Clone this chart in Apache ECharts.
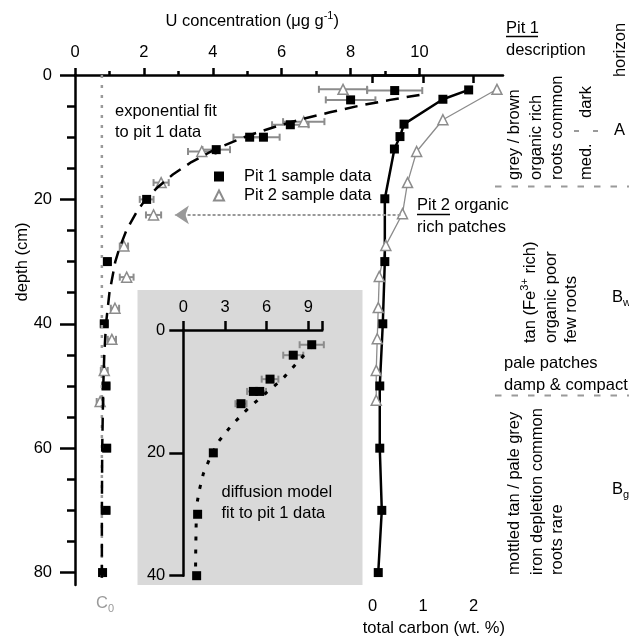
<!DOCTYPE html>
<html>
<head>
<meta charset="utf-8">
<script src="https://cdn.jsdelivr.net/npm/echarts@6/dist/echarts.min.js"></script>
<style>
  html, body { margin: 0; padding: 0; background: #fff; }
  #chart { width: 629px; height: 637px; }
</style>
</head>
<body>
<div id="chart"></div>
<script>
// --- U concentration (ug/g) against depth (cm), main panel ---
const pit1Depth = [2.5, 4.0, 8.0, 10.0, 10.0, 12.0, 20.0, 30.0, 40.0, 50.0, 60.0, 70.0, 80.0];
const pit1U = [9.28, 8.0, 6.25, 5.07, 5.47, 4.1, 2.08, 0.94, 0.85, 0.9, 0.92, 0.9, 0.8];
const pit1Err = [0.8, 0.72, 0.53, 0.47, 0.47, 0.4, 0.2, 0.1, 0.1, 0.1, 0.1, 0.1, 0.1];

const pit2Depth = [2.3, 7.5, 12.3, 17.3, 22.5, 27.5, 32.5, 37.5, 42.5, 47.5, 52.5];
const pit2U = [7.78, 6.64, 3.68, 2.5, 2.28, 1.42, 1.5, 1.16, 1.07, 0.85, 0.73];
const pit2Err = [0.7, 0.6, 0.4, 0.22, 0.22, 0.12, 0.2, 0.12, 0.12, 0.1, 0.1];

// exponential fit
const expFitDepth = [3.2, 4, 5, 6, 7, 8, 9, 10, 12, 14, 16, 18, 20, 22, 25, 28, 30, 35, 40, 45, 50, 60, 70, 82];
const expFitU = [10.0, 9.15, 8.2, 7.4, 6.66, 6.0, 5.43, 4.91, 4.05, 3.38, 2.84, 2.41, 2.05, 1.79, 1.49, 1.28, 1.17, 1.0, 0.9, 0.85, 0.82, 0.79, 0.78, 0.78];

// background concentration C0
const c0Depth = [0, 82];
const c0U = [0.78, 0.78];

// "Pit 2 organic rich patches" arrow
const arrowDepth = 22.5;
const arrowFromU = 9.45;
const arrowToU = 2.9;

// --- total carbon (wt. %) ---
const carbon1Depth = [2.4, 3.9, 7.9, 9.9, 11.9, 19.9, 30, 40, 50, 60, 70, 80];
const carbon1 = [1.9, 1.39, 0.62, 0.54, 0.43, 0.24, 0.24, 0.2, 0.14, 0.14, 0.18, 0.11];
const carbon2Depth = [2.3, 7.2, 12.3, 17.3, 22.3, 27.4, 32.4, 37.4, 42.4, 47.5, 52.3];
const carbon2 = [2.46, 1.39, 0.87, 0.69, 0.59, 0.26, 0.13, 0.11, 0.09, 0.07, 0.07];

// --- inset: diffusion model ---
const insetDepth = [2.4, 4.1, 8.0, 10.0, 10.0, 12.0, 20.0, 30.0, 40.0];
const insetU = [9.24, 7.91, 6.24, 5.04, 5.5, 4.15, 2.16, 1.03, 0.96];
const insetErr = [0.87, 0.72, 0.6, 0.45, 0.45, 0.4, 0.15, 0.1, 0.1];
const diffFitDepth = [2.5, 4, 5.7, 8.1, 10.6, 13.0, 15.5, 18.2, 21.2, 23.4, 26.1, 28.2, 31, 33.6, 36.6, 40];
const diffFitU = [9.3, 8.72, 8.04, 7.08, 5.76, 4.56, 3.48, 2.52, 1.85, 1.44, 1.15, 0.99, 0.93, 0.91, 0.89, 0.88];

// --- ticks ---
const uTicks = [0, 2, 4, 6, 8, 10];
const uMinorTicks = [1, 3, 5, 7, 9];
const depthTicks = [0, 20, 40, 60, 80];
const depthMinorTicks = [5, 10, 15, 25, 30, 35, 45, 50, 55, 65, 70, 75];
const carbonTicks = [0, 1, 2];
const insetUTicks = [0, 3, 6, 9, 10];
const insetULabels = [0, 3, 6, 9];
const insetDepthTicks = [0, 20, 40];

const FONT = 'Liberation Sans, Arial, sans-serif';
const FS = 16.5;
const GREY = '#8c8c8c';

const zip = (a, b) => a.map((v, i) => [v, b[i]]);
const zip3 = (a, b, c) => a.map((v, i) => [v, b[i], c[i]]);

function errorBars(params, api) {
  const y = api.value(1);
  const lo = api.coord([api.value(0) - api.value(2), y]);
  const hi = api.coord([api.value(0) + api.value(2), y]);
  const cap = 3.5;
  const style = { stroke: GREY, lineWidth: 2, fill: null };
  return {
    type: 'group',
    children: [
      { type: 'line', shape: { x1: lo[0], y1: lo[1], x2: hi[0], y2: hi[1] }, style },
      { type: 'line', shape: { x1: lo[0], y1: lo[1] - cap, x2: lo[0], y2: lo[1] + cap }, style },
      { type: 'line', shape: { x1: hi[0], y1: hi[1] - cap, x2: hi[0], y2: hi[1] + cap }, style }
    ]
  };
}

const RICH = {
  n: { fontSize: FS, fontFamily: FONT, lineHeight: 22 },
  sup: { fontSize: 11, fontFamily: FONT, verticalAlign: 'top' },
  sub: { fontSize: 11, fontFamily: FONT, verticalAlign: 'bottom' }
};

function txt(x, y, text, opt) {
  opt = opt || {};
  return {
    type: 'text', x: x, y: y, z: 10,
    rotation: opt.rot || 0,
    style: {
      text: text, fontSize: FS, fontFamily: FONT, fill: opt.fill || '#000',
      align: opt.align || 'left', verticalAlign: 'middle',
      textAlign: opt.align || 'left', textVerticalAlign: 'middle',
      rich: RICH
    }
  };
}
function hline(x1, x2, y, stroke, width, dash) {
  return {
    type: 'line', z: 10,
    shape: { x1: x1, y1: y, x2: x2, y2: y },
    style: { stroke: stroke, lineWidth: width, lineDash: dash || null }
  };
}

const UP = Math.PI / 2;
const axisText = { color: '#000', fontSize: FS, fontFamily: FONT };
const axisLine = { show: true, lineStyle: { color: '#000', width: 2.5 } };

const chart = echarts.init(document.getElementById('chart'));

chart.setOption({
  animation: false,
  backgroundColor: '#fff',
  textStyle: { fontFamily: FONT },
  grid: [
    { left: 75, top: 75, width: 344.5, height: 510, outerBoundsMode: 'none' },
    { left: 75, top: 75, width: 344.5, height: 510, outerBoundsMode: 'none' },
    { left: 372.7, top: 75, width: 130.3, height: 512, outerBoundsMode: 'none' },
    { left: 183.3, top: 330, width: 139, height: 245.7, outerBoundsMode: 'none' }
  ],
  xAxis: [
    {
      gridIndex: 0, type: 'value', position: 'top', min: 0, max: 10,
      axisLine: axisLine,
      axisTick: { show: true, customValues: uTicks, length: 7, lineStyle: { color: '#000', width: 2.5 } },
      axisLabel: Object.assign({ customValues: uTicks, margin: 14 }, axisText),
      splitLine: { show: false },
      name: '{n|U concentration (μg g}{sup|-1}{n|)}',
      nameLocation: 'middle', nameGap: 43,
      nameTextStyle: { color: '#000', rich: RICH, padding: [0, 0, 0, 10] }
    },
    {
      gridIndex: 1, type: 'value', position: 'top', min: 0, max: 10,
      axisLine: { show: false },
      axisTick: { show: true, customValues: uMinorTicks, length: 4, lineStyle: { color: '#000', width: 2.5 } },
      axisLabel: { show: false },
      splitLine: { show: false }
    },
    {
      gridIndex: 2, type: 'value', position: 'bottom', min: 0, max: 2.58,
      axisLine: axisLine,
      axisTick: { show: true, customValues: carbonTicks, length: 8, lineStyle: { color: '#000', width: 2.5 } },
      axisLabel: Object.assign({ customValues: carbonTicks, margin: 11 }, axisText),
      splitLine: { show: false },
      name: 'total carbon (wt. %)',
      nameLocation: 'middle', nameGap: 31,
      nameTextStyle: Object.assign({ padding: [0, 8, 0, 0] }, axisText)
    },
    {
      gridIndex: 3, type: 'value', position: 'top', min: 0, max: 10,
      axisLine: axisLine,
      axisTick: { show: true, customValues: insetUTicks, length: 9, lineStyle: { color: '#000', width: 2.5 } },
      axisLabel: Object.assign({ customValues: insetULabels, margin: 14 }, axisText),
      splitLine: { show: false }
    }
  ],
  yAxis: [
    {
      gridIndex: 0, type: 'value', inverse: true, min: 0, max: 82,
      axisLine: axisLine,
      axisTick: { show: true, customValues: depthTicks, length: 15, lineStyle: { color: '#000', width: 2.5 } },
      axisLabel: Object.assign({ customValues: depthTicks, margin: 23 }, axisText),
      splitLine: { show: false }
    },
    {
      gridIndex: 1, type: 'value', inverse: true, min: 0, max: 82,
      axisLine: { show: false },
      axisTick: { show: true, customValues: depthMinorTicks, length: 8, lineStyle: { color: '#000', width: 2.5 } },
      axisLabel: { show: false },
      splitLine: { show: false }
    },
    {
      gridIndex: 2, type: 'value', inverse: true, min: 0, max: 82.32, show: false,
      splitLine: { show: false }
    },
    {
      gridIndex: 3, type: 'value', inverse: true, min: 0, max: 40,
      axisLine: axisLine,
      axisTick: { show: true, customValues: insetDepthTicks, length: 14, lineStyle: { color: '#000', width: 2.5 } },
      axisLabel: Object.assign({ customValues: insetDepthTicks, margin: 18 }, axisText),
      splitLine: { show: false }
    }
  ],
  legend: {
    left: 208, top: 163, orient: 'vertical', itemGap: 2,
    itemWidth: 10, itemHeight: 10,
    textStyle: { color: '#000', fontSize: FS, fontFamily: FONT, padding: [0, 0, 0, 15] },
    data: [
      { name: 'Pit 1 sample data', icon: 'rect' },
      { name: 'Pit 2 sample data', icon: 'triangle' }
    ]
  },
  series: [
    {
      name: 'C0', type: 'line', xAxisIndex: 0, yAxisIndex: 0,
      data: zip(c0U, c0Depth), symbol: 'none',
      lineStyle: { color: '#9a9a9a', width: 2.5, type: [3, 7] }
    },
    {
      name: 'exponential fit', type: 'line', xAxisIndex: 0, yAxisIndex: 0,
      data: zip(expFitU, expFitDepth), symbol: 'none',
      lineStyle: { color: '#000', width: 2.5, type: [13, 8] }
    },
    {
      name: 'arrow', type: 'line', xAxisIndex: 0, yAxisIndex: 0, data: [],
      markLine: {
        silent: true, symbol: ['none', 'arrow'], symbolSize: 14,
        label: { show: false },
        lineStyle: { color: '#999', width: 2, type: [3, 2], opacity: 1 },
        data: [[{ coord: [arrowFromU, arrowDepth] }, { coord: [arrowToU, arrowDepth] }]]
      }
    },
    {
      type: 'custom', xAxisIndex: 0, yAxisIndex: 0,
      renderItem: errorBars, encode: { x: 0, y: 1 },
      data: zip3(pit2U, pit2Depth, pit2Err)
    },
    {
      type: 'custom', xAxisIndex: 0, yAxisIndex: 0,
      renderItem: errorBars, encode: { x: 0, y: 1 },
      data: zip3(pit1U, pit1Depth, pit1Err)
    },
    {
      name: 'Pit 2 sample data', type: 'scatter', xAxisIndex: 0, yAxisIndex: 0,
      data: zip(pit2U, pit2Depth), symbol: 'triangle', symbolSize: 10,
      itemStyle: { color: '#fff', borderColor: GREY, borderWidth: 1.5, opacity: 1 }
    },
    {
      name: 'Pit 1 sample data', type: 'scatter', xAxisIndex: 0, yAxisIndex: 0,
      data: zip(pit1U, pit1Depth), symbol: 'rect', symbolSize: 9,
      itemStyle: { color: '#000', opacity: 1 }
    },
    {
      name: 'carbon pit 2', type: 'line', xAxisIndex: 2, yAxisIndex: 2,
      data: zip(carbon2, carbon2Depth), symbol: 'triangle', symbolSize: 10,
      lineStyle: { color: GREY, width: 1.3 },
      itemStyle: { color: '#fff', borderColor: GREY, borderWidth: 1.5 }
    },
    {
      name: 'carbon pit 1', type: 'line', xAxisIndex: 2, yAxisIndex: 2,
      data: zip(carbon1, carbon1Depth), symbol: 'rect', symbolSize: 9,
      lineStyle: { color: '#000', width: 2.5 },
      itemStyle: { color: '#000' }
    },
    {
      name: 'diffusion model', type: 'line', xAxisIndex: 3, yAxisIndex: 3,
      data: zip(diffFitU, diffFitDepth), symbol: 'none',
      lineStyle: { color: '#000', width: 3, type: [4, 9] }
    },
    {
      type: 'custom', xAxisIndex: 3, yAxisIndex: 3,
      renderItem: errorBars, encode: { x: 0, y: 1 },
      data: zip3(insetU, insetDepth, insetErr)
    },
    {
      name: 'inset pit 1', type: 'scatter', xAxisIndex: 3, yAxisIndex: 3,
      data: zip(insetU, insetDepth), symbol: 'rect', symbolSize: 9,
      itemStyle: { color: '#000', opacity: 1 }
    }
  ],
  graphic: {
    elements: [
      // inset background
      { type: 'rect', z: -1, shape: { x: 137.5, y: 290, width: 225, height: 295 }, style: { fill: '#d9d9d9' } },

      txt(22.5, 262, 'depth (cm)', { rot: UP, align: 'center' }),
      txt(115, 111, 'exponential fit'),
      txt(115, 132, 'to pit 1 data'),
      txt(221.5, 492, 'diffusion model'),
      txt(221.5, 513, 'fit to pit 1 data'),
      txt(96, 603, '{n|C}{sub|0}', { fill: '#9a9a9a' }),

      txt(417, 205, 'Pit 2 organic'),
      txt(417, 227, 'rich patches'),
      hline(417, 450, 214.5, '#000', 1.5),

      // soil description column
      txt(506, 28, 'Pit 1'),
      hline(506, 538, 36.5, '#000', 1.5),
      txt(506, 50, 'description'),
      txt(620, 50, 'horizon', { rot: UP, align: 'center' }),

      txt(514, 180, 'grey / brown', { rot: UP }),
      txt(536, 180, 'organic rich', { rot: UP }),
      txt(557.5, 180, 'roots common', { rot: UP }),
      txt(586, 118, 'dark', { rot: UP }),
      txt(586, 180, 'med.', { rot: UP }),
      hline(574, 598, 131, '#9a9a9a', 2, [5, 14]),
      txt(619.5, 130, 'A', { align: 'center' }),
      hline(495, 629, 186.5, '#9a9a9a', 2, [6.5, 10]),

      txt(530, 343, '{n|tan (Fe}{sup|3+}{n| rich)}', { rot: UP }),
      txt(551.5, 343, 'organic poor', { rot: UP }),
      txt(571, 343, 'few roots', { rot: UP }),
      txt(612, 297, '{n|B}{sub|w}'),
      txt(504, 363, 'pale patches'),
      txt(504, 385, 'damp & compact'),
      hline(495, 629, 395.5, '#9a9a9a', 2, [6.5, 10]),

      txt(514, 575, 'mottled tan / pale grey', { rot: UP }),
      txt(537.5, 575, 'iron depletion common', { rot: UP }),
      txt(557.5, 575, 'roots rare', { rot: UP }),
      txt(612, 489, '{n|B}{sub|g}')
    ]
  }
});
</script>
</body>
</html>
